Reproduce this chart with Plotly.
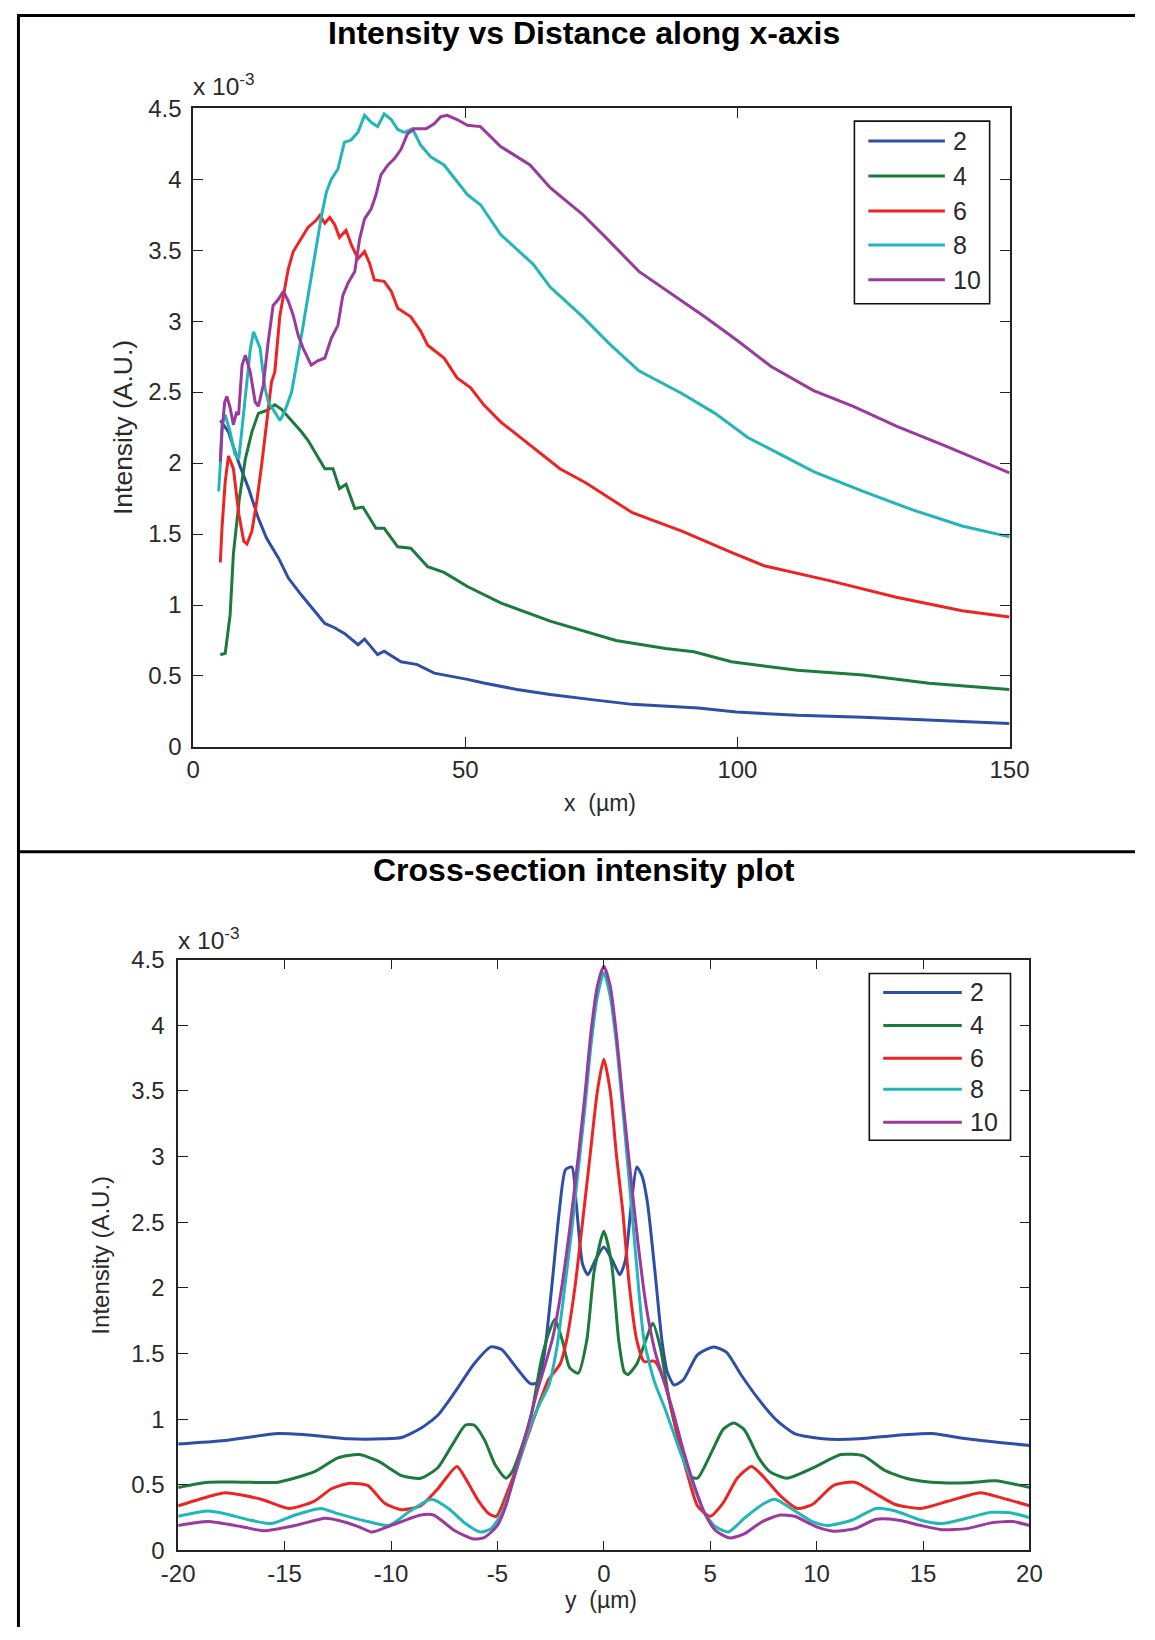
import plotly.graph_objects as go

W, H = 1155, 1640

# The rendered page shows the figure slightly scaled/offset; positions below are given in
# reference-picture pixels and converted to figure pixels with this measured mapping.
SX, OX = 0.9734, 13.9
SY, OY = 0.9854, 11.65


def fxp(r):
    return (r - OX) / SX


def fyp(r):
    return (r - OY) / SY


def px(r):
    return fxp(r) / W


def py(r):
    return 1 - fyp(r) / H


series_names = ["2", "4", "6", "8", "10"]
colors = ["#2f4fa6", "#1c7a3c", "#ee2424", "#22b6b8", "#9a3a9c"]

# ---------------- Top chart: intensity vs distance along x-axis (x 10^-3) ----------------
xa_2 = [5.0, 6.5, 8.4, 10.2, 12.0, 13.5, 15.7, 17.5, 19.9, 22.3, 24.2, 26.0, 27.8, 30.3, 31.5,
        33.9, 35.1, 38.2, 41.2, 44.3, 47.3, 50.4, 53.4, 56.5, 59.5, 65.6, 68.6, 74.0, 80.7, 92.8,
        99.8, 111.0, 123.1, 135.2, 150.0]
ia_2 = [2.30, 2.22, 2.00, 1.82, 1.61, 1.47, 1.33, 1.19, 1.07, 0.96, 0.87, 0.84, 0.80, 0.72, 0.76,
        0.65, 0.675, 0.60, 0.58, 0.52, 0.50, 0.476, 0.45, 0.425, 0.405, 0.37, 0.355, 0.33, 0.30, 0.274,
        0.246, 0.223, 0.209, 0.188, 0.165]

xa_4 = [5.0, 5.9, 6.8, 7.4, 8.5, 9.6, 10.8, 12.0, 13.5, 15.0, 16.2, 18.1, 19.9, 21.1, 22.3, 24.2,
        25.7, 26.9, 28.1, 29.7, 31.2, 33.6, 35.1, 37.6, 40.0, 43.1, 46.1, 50.4, 56.5, 60.7, 65.6,
        77.7, 86.8, 92.0, 98.9, 111.0, 123.1, 135.2, 150.0]
ia_4 = [0.65, 0.66, 0.93, 1.36, 1.75, 2.03, 2.22, 2.35, 2.37, 2.41, 2.38, 2.30, 2.22, 2.16, 2.08, 1.96,
        1.96, 1.82, 1.85, 1.68, 1.69, 1.54, 1.54, 1.41, 1.40, 1.27, 1.23, 1.13, 1.015, 0.956, 0.886,
        0.75, 0.694, 0.67, 0.60, 0.54, 0.507, 0.449, 0.405]

xa_6 = [5.0, 5.3, 5.9, 6.5, 7.4, 8.4, 9.3, 9.9, 10.8, 11.7, 12.6, 13.5, 14.4, 15.0, 15.95, 16.6,
        17.5, 18.4, 19.9, 21.1, 22.6, 23.3, 24.2, 25.1, 26.0, 26.9, 28.1, 29.1, 30.3, 31.5, 32.4,
        33.3, 35.1, 36.4, 37.6, 40.0, 41.8, 43.1, 46.1, 48.5, 51.0, 53.4, 56.5, 62.5, 67.4, 72.2,
        80.7, 89.8, 98.9, 104.9, 117.1, 129.2, 141.3, 150.0]
ia_6 = [1.30, 1.54, 1.87, 2.05, 1.96, 1.64, 1.45, 1.43, 1.52, 1.73, 1.99, 2.27, 2.57, 2.64, 3.04, 3.18,
        3.37, 3.49, 3.59, 3.66, 3.71, 3.745, 3.69, 3.73, 3.68, 3.59, 3.64, 3.535, 3.44, 3.49, 3.41,
        3.29, 3.28, 3.21, 3.09, 3.03, 2.93, 2.83, 2.74, 2.60, 2.53, 2.41, 2.29, 2.11, 1.96, 1.86,
        1.65, 1.52, 1.37, 1.277, 1.17, 1.055, 0.96, 0.915]

xa_8 = [4.7, 5.0, 5.3, 5.9, 6.8, 7.7, 8.4, 9.3, 10.0, 10.5, 11.1, 12.3, 13.2, 13.8, 15.0, 15.95,
        16.8, 18.1, 19.3, 20.5, 21.4, 22.3, 23.6, 24.5, 25.4, 26.6, 27.8, 29.0, 30.3, 31.5, 32.7,
        33.9, 35.1, 36.4, 37.6, 38.8, 40.3, 41.8, 43.7, 46.1, 48.5, 50.4, 52.8, 56.5, 62.5, 65.6,
        71.6, 76.5, 81.9, 89.8, 95.9, 101.9, 108.0, 114.0, 123.1, 132.2, 141.3, 150.0]
ia_8 = [1.80, 1.99, 2.27, 2.34, 2.22, 2.06, 2.03, 2.35, 2.60, 2.80, 2.925, 2.81, 2.53, 2.43, 2.36, 2.30,
        2.36, 2.50, 2.76, 3.04, 3.23, 3.44, 3.745, 3.91, 4.00, 4.07, 4.26, 4.275, 4.33, 4.45, 4.40,
        4.37, 4.46, 4.42, 4.35, 4.33, 4.355, 4.24, 4.155, 4.10, 3.98, 3.89, 3.82, 3.61, 3.40, 3.24,
        3.03, 2.84, 2.65, 2.49, 2.35, 2.18, 2.06, 1.94, 1.80, 1.67, 1.557, 1.48]

xa_10 = [5.0, 5.3, 5.8, 6.2, 6.8, 7.4, 8.0, 8.35, 9.0, 9.6, 10.5, 11.4, 12.0, 12.9, 13.8, 14.7,
         15.6, 16.6, 17.5, 18.4, 19.3, 20.2, 21.7, 22.9, 24.2, 25.4, 26.6, 27.5, 28.5, 29.7, 30.6,
         31.5, 32.7, 33.6, 34.5, 35.8, 37.0, 38.2, 39.4, 40.6, 42.8, 44.3, 45.5, 46.7, 48.5, 50.4,
         52.8, 54.6, 56.5, 61.9, 65.6, 71.6, 75.8, 81.9, 88.0, 94.0, 100.1, 106.2, 114.0, 121.3,
         129.2, 138.3, 150.0]
ia_10 = [2.01, 2.22, 2.43, 2.47, 2.39, 2.27, 2.36, 2.34, 2.69, 2.76, 2.64, 2.43, 2.40, 2.55, 2.855, 3.11,
         3.15, 3.21, 3.14, 3.04, 2.90, 2.81, 2.69, 2.72, 2.74, 2.88, 2.97, 3.18, 3.27, 3.35, 3.58,
         3.72, 3.79, 3.89, 4.03, 4.10, 4.145, 4.21, 4.32, 4.355, 4.355, 4.39, 4.44, 4.45, 4.42, 4.38,
         4.37, 4.30, 4.23, 4.10, 3.94, 3.75, 3.59, 3.35, 3.19, 3.03, 2.86, 2.68, 2.51, 2.40,
         2.26, 2.12, 1.93]

# ---------------- Bottom chart: cross-section intensity (x 10^-3) ----------------
yb_2 = [-20, -17.8, -15.3, -13.6, -12.0, -10.3, -9.5, -8.6, -7.8, -7.0, -6.1, -5.3, -4.8, -4.1, -3.45,
        -3.1, -2.8, -2.45, -2.1, -1.8, -1.5, -1.3, -1.0, -0.75, -0.4, 0, 0.4, 0.75, 1.0, 1.3, 1.55,
        1.8, 2.05, 2.4, 2.73, 2.98, 3.3, 3.74, 4.4, 5.17, 5.76, 6.44, 7.28, 8.1, 8.96, 10.3, 12.0,
        13.7, 15.4, 17.05, 18.7, 20]
ib_2 = [0.81, 0.837, 0.89, 0.876, 0.85, 0.85, 0.86, 0.93, 1.03, 1.205, 1.42, 1.55, 1.53, 1.39, 1.27,
        1.28, 1.49, 2.0, 2.57, 2.90, 2.92, 2.65, 2.18, 2.10, 2.21, 2.31, 2.21, 2.10, 2.2, 2.65, 2.92,
        2.85, 2.65, 2.13, 1.6, 1.36, 1.26, 1.30, 1.49, 1.55, 1.51, 1.34, 1.15, 0.995, 0.89, 0.85, 0.85,
        0.876, 0.89, 0.85, 0.82, 0.80]

yb_4 = [-20, -18.6, -17, -15.3, -13.6, -12.5, -11.5, -10.6, -9.5, -8.6, -7.8, -7.1, -6.5, -6.1, -5.6,
        -5.1, -4.6, -4.3, -3.45, -2.95, -2.6, -2.3, -1.95, -1.6, -1.2, -0.8, -0.45, 0, 0.37, 0.7,
        0.96, 1.13, 1.55, 1.97, 2.3, 2.65, 3.07, 3.57, 4.0, 4.4, 5.1, 5.6, 6.1, 6.6, 7.28, 7.8, 8.6,
        9.8, 11.15, 12.2, 13.2, 14.2, 15.4, 17.05, 18.4, 20]
ib_4 = [0.48, 0.52, 0.52, 0.52, 0.60, 0.705, 0.73, 0.68, 0.57, 0.55, 0.63, 0.81, 0.955, 0.955, 0.84,
        0.65, 0.55, 0.60, 1.0, 1.44, 1.65, 1.76, 1.6, 1.39, 1.35, 1.6, 2.13, 2.43, 2.18, 1.6,
        1.36, 1.34, 1.42, 1.6, 1.73, 1.55, 1.15, 0.81, 0.57, 0.55, 0.76, 0.92, 0.97, 0.92, 0.705, 0.60, 0.55,
        0.626, 0.73, 0.72, 0.61, 0.55, 0.52, 0.515, 0.53, 0.48]

yb_6 = [-20, -19.0, -17.8, -16.1, -14.8, -13.6, -12.8, -12.0, -11.1, -10.3, -9.5, -8.6, -7.8, -6.9,
        -6.4, -5.9, -5.4, -5.05, -4.4, -3.9, -3.3, -2.6, -2.05, -1.75, -1.36, -1.0, -0.65, -0.3, 0,
        0.3, 0.6, 0.88, 1.21, 1.55, 1.89, 2.39, 2.9, 3.4, 3.9, 4.4, 5.0, 5.6, 6.27, 6.94, 7.45, 8.3,
        9.1, 9.8, 10.8, 11.8, 12.8, 13.7, 14.9, 16.2, 17.7, 18.7, 20]
ib_6 = [0.34, 0.39, 0.44, 0.39, 0.32, 0.376, 0.47, 0.51, 0.495, 0.36, 0.31, 0.34, 0.47, 0.64,
        0.52, 0.38, 0.28, 0.26, 0.5, 0.72, 1.0, 1.3, 1.42, 1.6, 2.0, 2.5, 3.0, 3.5, 3.74,
        3.5, 3.0, 2.6, 2.0, 1.6, 1.44, 1.44, 1.26, 0.92, 0.60, 0.34, 0.26, 0.36, 0.55, 0.64, 0.57, 0.416,
        0.32, 0.35, 0.495, 0.52, 0.43, 0.35, 0.32, 0.376, 0.44, 0.40, 0.34]

yb_8 = [-20, -18.6, -17.8, -16.6, -15.6, -14.5, -13.3, -12.5, -11.1, -10.1, -9.1, -8.1, -7.3, -6.5,
        -5.8, -5.3, -4.8, -4.1, -3.45, -3.0, -2.6, -2.2, -1.8, -1.5, -1.2, -0.9, -0.6, -0.3, 0, 0.3,
        0.6, 0.9, 1.2, 1.5, 1.89, 2.39, 2.9, 3.57, 4.08, 4.75, 5.26, 5.85, 6.6, 7.45, 8.04, 8.8, 9.8,
        10.5, 11.65, 12.8, 13.7, 14.9, 15.9, 17.05, 18.2, 19.2, 20]
ib_8 = [0.26, 0.30, 0.28, 0.23, 0.205, 0.27, 0.32, 0.28, 0.22, 0.19, 0.30, 0.39, 0.32, 0.205,
        0.14, 0.166, 0.28, 0.61, 0.95, 1.12, 1.25, 1.55, 2.05, 2.45, 2.9, 3.35, 3.85, 4.22, 4.40, 4.22,
        3.85, 3.35, 2.8, 2.25, 1.6, 1.28, 1.07, 0.76, 0.55, 0.28, 0.18, 0.14, 0.245, 0.35, 0.39, 0.32, 0.22,
        0.19, 0.23, 0.32, 0.30, 0.23, 0.205, 0.245, 0.29, 0.284, 0.25]

yb_10 = [-20, -18.6, -17, -16, -14.5, -13.1, -12.5, -11.5, -10.9, -10.0, -8.6, -8.0, -7.0, -6.1, -5.6,
         -5.0, -4.6, -4.1, -3.6, -3.1, -2.8, -2.4, -2.0, -1.6, -1.2, -0.9, -0.6, -0.3, 0, 0.3, 0.6,
         0.9, 1.2, 1.6, 2.0, 2.4, 2.73, 3.23, 3.74, 4.25, 4.75, 5.26, 5.93, 6.6, 7.45, 8.3, 8.96,
         10.0, 10.8, 11.8, 12.8, 13.85, 14.9, 15.9, 17.05, 18.2, 19.2, 20]
ib_10 = [0.19, 0.22, 0.18, 0.15, 0.19, 0.245, 0.23, 0.18, 0.14, 0.19, 0.27, 0.27, 0.15, 0.087, 0.10,
         0.19, 0.34, 0.63, 0.92, 1.23, 1.39, 1.62, 1.98, 2.45, 3.0, 3.45, 3.95, 4.3, 4.45, 4.3, 3.92,
         3.42, 2.95, 2.35, 1.85, 1.52, 1.34, 1.07, 0.76, 0.495, 0.28, 0.15, 0.095, 0.126, 0.22, 0.27, 0.26,
         0.18, 0.147, 0.166, 0.237, 0.23, 0.19, 0.158, 0.166, 0.21, 0.22, 0.19]

y_ticks = [0, 0.5, 1, 1.5, 2, 2.5, 3, 3.5, 4, 4.5]
y_ticktext = ["0", "0.5", "1", "1.5", "2", "2.5", "3", "3.5", "4", "4.5"]
xa_ticks = [0, 50, 100, 150]
xb_ticks = [-20, -15, -10, -5, 0, 5, 10, 15, 20]

top_x = [xa_2, xa_4, xa_6, xa_8, xa_10]
top_y = [ia_2, ia_4, ia_6, ia_8, ia_10]
bot_x = [yb_2, yb_4, yb_6, yb_8, yb_10]
bot_y = [ib_2, ib_4, ib_6, ib_8, ib_10]

fig = go.Figure()
for name, c, xs, ys in zip(series_names, colors, top_x, top_y):
    fig.add_trace(go.Scatter(x=xs, y=ys, mode="lines", name=name, showlegend=False,
                             line=dict(color=c, width=3), xaxis="x", yaxis="y"))
for name, c, xs, ys in zip(series_names, colors, bot_x, bot_y):
    fig.add_trace(go.Scatter(x=xs, y=ys, mode="lines", name=name, showlegend=False,
                             line=dict(color=c, width=3, shape="spline", smoothing=0.6),
                             xaxis="x2", yaxis="y2"))

FONT = "Liberation Sans, Arial, sans-serif"
TXT = "#2a2a2a"
tickfont = dict(family=FONT, size=24, color=TXT)
axis_common = dict(showline=True, linecolor="#222", linewidth=1.6, mirror="ticks",
                   ticks="inside", ticklen=10, tickwidth=1.3, tickcolor="#222",
                   showgrid=False, zeroline=False, tickfont=tickfont, fixedrange=True)

# plotting areas in reference pixels
T_L, T_R, T_T, T_B = 191, 1012, 106, 746
B_L, B_R, B_T, B_B = 176, 1032, 959, 1551

fig.update_layout(
    width=W, height=H,
    margin=dict(l=0, r=0, t=0, b=0),
    paper_bgcolor="white", plot_bgcolor="white",
    showlegend=False,
    xaxis=dict(domain=[px(T_L), px(T_R)], range=[0, 150], tickvals=xa_ticks,
               ticktext=[str(v) for v in xa_ticks], anchor="y", ticklabelstandoff=0,
               **axis_common),
    yaxis=dict(domain=[py(T_B), py(T_T)], range=[0, 4.5], tickvals=y_ticks,
               ticktext=y_ticktext, anchor="x", ticklabelstandoff=5, **axis_common),
    xaxis2=dict(domain=[px(B_L), px(B_R)], range=[-20, 20], tickvals=xb_ticks,
                ticktext=[str(v) for v in xb_ticks], anchor="y2", ticklabelstandoff=1,
                **axis_common),
    yaxis2=dict(domain=[py(B_B), py(B_T)], range=[0, 4.5], tickvals=y_ticks,
                ticktext=y_ticktext, anchor="x2", ticklabelstandoff=7, **axis_common),
)

shapes = []
annotations = []

# outer frame lines (table borders), kept at the very edge of the figure
frame = dict(color="black", width=3)
edge_x = 1.5 / W
edge_y = 1 - 1.5 / H
shapes.append(dict(type="line", xref="paper", yref="paper", x0=0, x1=1, y0=edge_y, y1=edge_y, line=frame))
shapes.append(dict(type="line", xref="paper", yref="paper", x0=edge_x, x1=edge_x, y0=0, y1=1, line=frame))
shapes.append(dict(type="line", xref="paper", yref="paper", x0=0, x1=1, y0=py(851), y1=py(851), line=frame))

# titles
title_font = dict(family=FONT, size=32, color="black")
annotations.append(dict(text="<b>Intensity vs Distance along x-axis</b>", x=px(584), y=py(31),
                        xref="paper", yref="paper", showarrow=False, font=title_font,
                        xanchor="center", yanchor="middle"))
annotations.append(dict(text="<b>Cross-section intensity plot</b>", x=px(584), y=py(869),
                        xref="paper", yref="paper", showarrow=False, font=title_font,
                        xanchor="center", yanchor="middle"))

label_font = dict(family=FONT, size=23, color=TXT)
# axis labels
annotations.append(dict(text="x  (µm)", x=px(600), y=py(802), xref="paper", yref="paper",
                        showarrow=False, font=label_font, xanchor="center", yanchor="middle"))
annotations.append(dict(text="y  (µm)", x=px(601), y=py(1601), xref="paper", yref="paper",
                        showarrow=False, font=label_font, xanchor="center", yanchor="middle"))
annotations.append(dict(text="Intensity (A.U.)", x=px(120), y=py(426), xref="paper", yref="paper",
                        showarrow=False, font=dict(family=FONT, size=26.5, color=TXT), textangle=-90,
                        xanchor="center", yanchor="middle"))
annotations.append(dict(text="Intensity (A.U.)", x=px(98), y=py(1255), xref="paper", yref="paper",
                        showarrow=False, font=dict(family=FONT, size=24, color=TXT), textangle=-90,
                        xanchor="center", yanchor="middle"))
# exponent labels
exp_font = dict(family=FONT, size=24.5, color=TXT)
annotations.append(dict(text="x 10<sup>-3</sup>", x=px(189), y=py(82), xref="paper", yref="paper",
                        showarrow=False, font=exp_font, xanchor="left", yanchor="middle"))
annotations.append(dict(text="x 10<sup>-3</sup>", x=px(174), y=py(938), xref="paper", yref="paper",
                        showarrow=False, font=exp_font, xanchor="left", yanchor="middle"))


def add_legend(box, line_x0, line_x1, text_x, rows):
    x0, y0, x1, y1 = box
    shapes.append(dict(type="rect", xref="paper", yref="paper", x0=px(x0), x1=px(x1),
                       y0=py(y1), y1=py(y0), line=dict(color="#111", width=1.6),
                       fillcolor="white", layer="above"))
    for name, c, ry in zip(series_names, colors, rows):
        shapes.append(dict(type="line", xref="paper", yref="paper", x0=px(line_x0), x1=px(line_x1),
                           y0=py(ry), y1=py(ry), line=dict(color=c, width=3), layer="above"))
        annotations.append(dict(text=name, x=px(text_x), y=py(ry), xref="paper", yref="paper",
                                showarrow=False, font=dict(family=FONT, size=25, color=TXT),
                                xanchor="left", yanchor="middle"))


add_legend((856, 119, 992, 302), 870, 947, 953, [139, 174, 209, 243, 278])
add_legend((871, 973, 1013, 1140), 885, 964, 970, [992, 1025, 1058, 1089, 1122])

fig.update_layout(shapes=shapes, annotations=annotations)
fig.write_html("out.html")
